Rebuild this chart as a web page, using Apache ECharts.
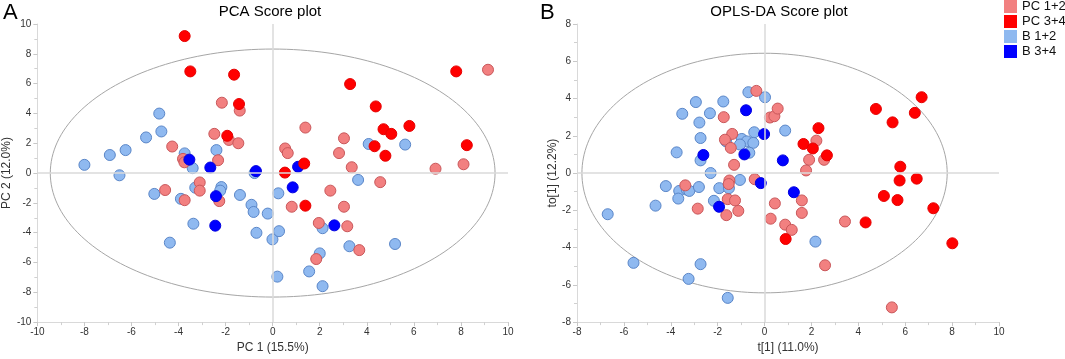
<!DOCTYPE html>
<html>
<head>
<meta charset="utf-8">
<script src="https://cdn.jsdelivr.net/npm/echarts@6/dist/echarts.min.js"></script>
<style>
html, body { margin: 0; padding: 0; background: #fff; }
#main { width: 1065px; height: 359px; }
</style>
</head>
<body>
<div id="main"></div>
<script>
// group names (legend order)
var groupNames = ['PC 1+2', 'PC 3+4', 'B 1+2', 'B 3+4'];

// A - PCA scores [PC1, PC2]
var pcaPc12 = [[-2.16,4.72],[-1.40,4.19],[-2.48,2.63],[-1.86,2.22],[-1.46,2.0],[-4.27,1.78],[-3.81,0.95],[-3.75,0.72],
    [-2.32,0.86],[9.15,6.93],[1.39,3.05],[3.03,2.33],[2.82,1.34],[0.53,1.65],[0.64,1.34],[3.36,0.39],[6.92,0.29],
    [8.11,0.59],[-4.57,-1.14],[-3.74,-1.82],[-3.1,-0.63],[-3.1,-1.18],[-2.27,-1.88],[4.57,-0.61],[2.45,-1.18],
    [0.81,-2.26],[3.03,-2.26],[1.96,-3.35],[3.17,-3.57],[3.68,-5.17],[1.85,-5.77]];
var pcaPc34 = [[-3.74,9.19],[-3.5,6.82],[-1.64,6.6],[-1.43,4.63],[-1.93,2.5],[7.8,6.82],[3.29,5.97],[4.38,4.47],
    [4.71,2.94],[5.04,2.63],[5.81,3.16],[4.33,1.8],[8.25,1.87],[4.79,1.16],[1.34,0.64],[0.52,0.03],[1.39,-2.19]];
var pcaB12 = [[-4.82,3.99],[-4.73,2.79],[-5.38,2.39],[-6.92,1.21],[-6.25,1.54],[-8.0,0.55],[-3.74,1.32],[-3.4,0.33],
    [-2.39,1.54],[-0.77,0.0],[-6.51,-0.15],[4.08,1.95],[5.63,1.91],[-5.03,-1.4],[-3.9,-1.73],[-3.29,-0.98],
    [-2.18,-0.94],[-2.23,-1.18],[-1.39,-1.47],[-0.9,-2.13],[-0.81,-2.61],[-0.21,-2.72],[-3.37,-3.4],[-0.69,-4.01],
    [-4.37,-4.67],[-0.01,-4.45],[3.63,-0.46],[0.24,-1.36],[2.12,-3.7],[0.27,-3.9],[3.26,-4.91],[5.2,-4.76],
    [2.0,-5.39],[1.55,-6.6],[0.2,-6.95],[2.12,-7.59]];
var pcaB34 = [[-3.54,0.9],[-2.65,0.37],[-0.71,0.13],[1.08,0.42],[-2.41,-1.55],[-2.44,-3.53],[0.85,-0.96],[2.62,-3.51]];

// B - OPLS-DA scores [t1, to1]
var oplsPc12 = [[-0.35,4.41],[-1.74,3.0],[0.23,2.98],[0.42,3.05],[0.56,3.46],[-1.38,2.1],[-1.69,1.79],[-1.44,1.35],
    [-1.3,0.44],[2.21,1.74],[2.54,0.71],[1.9,0.71],[1.77,0.14],[-3.38,-0.66],[-1.5,-0.4],[-1.53,-0.59],[-0.42,-0.33],
    [-1.57,-1.4],[-1.26,-1.47],[-2.85,-1.91],[-1.12,-2.03],[-1.63,-2.26],[0.26,-2.45],[0.44,-1.63],[1.59,-1.47],
    [1.59,-2.14],[0.88,-2.77],[1.16,-3.05],[3.43,-2.6],[2.58,-4.95],[5.43,-7.21]];
var oplsPc34 = [[4.75,3.44],[6.7,4.07],[6.41,3.23],[5.46,2.72],[2.3,2.41],[1.66,1.56],[2.06,1.32],[2.66,0.95],
    [5.79,0.34],[5.76,-0.4],[6.49,-0.3],[5.09,-1.23],[5.67,-1.45],[7.2,-1.89],[4.31,-2.65],[0.9,-3.54],[8.01,-3.77]];
var oplsB12 = [[-0.69,4.34],[0.02,4.07],[-2.93,3.81],[-1.76,3.84],[-3.51,3.18],[-2.33,3.21],[-2.78,2.71],[-2.73,1.88],
    [-0.44,2.19],[0.88,2.28],[-1.64,1.7],[-0.97,1.83],[-0.76,1.7],[-1.05,1.53],[-0.48,1.62],[-0.65,1.09],[-3.75,1.11],
    [-2.73,0.68],[-2.3,0.0],[-4.21,-0.7],[-3.64,-0.96],[-3.68,-1.37],[-3.32,-0.89],[-3.21,-0.96],[-2.8,-0.75],
    [-1.93,-0.81],[-1.52,-0.81],[-1.05,-0.37],[-2.16,-1.49],[-4.65,-1.75],[-6.69,-2.21],[-5.59,-4.82],[-2.73,-4.89],
    [-3.24,-5.68],[-1.57,-6.7],[2.17,-3.68]];
var oplsB34 = [[-0.79,3.37],[-0.02,2.09],[-2.61,0.97],[-0.86,1.0],[0.78,0.68],[-0.16,-0.54],[-1.94,-1.81],[1.25,-1.03]];

// Hotelling T2 ellipse half-axes [x, y]
var pcaEllipse = [9.45, 8.32];
var oplsEllipse = [7.79, 6.43];

var colors = {
    'PC 1+2': { fill: '#f28080', border: '#c9575a' },
    'PC 3+4': { fill: '#ff0000', border: '#e60000' },
    'B 1+2':  { fill: '#8fb9f0', border: '#5a86c8' },
    'B 3+4':  { fill: '#0000ff', border: '#0000e0' }
};

var chart = echarts.init(document.getElementById('main'));

function ellipsePoints(ax) {
    var pts = [];
    for (var i = 0; i <= 200; i++) {
        var a = i / 200 * Math.PI * 2;
        pts.push([ax[0] * Math.cos(a), ax[1] * Math.sin(a)]);
    }
    return pts;
}

function axisStyle(min, max, name, gap, isY) {
    return {
        type: 'value', min: min, max: max, interval: 2,
        name: name, nameLocation: 'middle', nameGap: gap,
        nameTextStyle: { color: '#333', fontSize: 12, fontFamily: 'Liberation Sans' },
        axisLine: { show: true, onZero: false, lineStyle: { color: '#d9d9d9', width: 1 } },
        axisTick: { show: true, length: 4, lineStyle: { color: '#c8c8c8' } },
        minorTick: { show: true, splitNumber: 2, length: 3, lineStyle: { color: '#d0d0d0' } },
        axisLabel: { color: '#333', fontSize: 10, fontFamily: 'Liberation Sans', margin: isY ? 6 : 5 },
        splitLine: { show: false }
    };
}

function scatter(name, data, idx) {
    return {
        name: name, type: 'scatter', xAxisIndex: idx, yAxisIndex: idx,
        data: data, symbolSize: 11, z: 3,
        itemStyle: { color: colors[name].fill, borderColor: colors[name].border, borderWidth: 1, opacity: 1 }
    };
}

function ellipse(ax, idx) {
    return {
        type: 'line', xAxisIndex: idx, yAxisIndex: idx, silent: true, z: 2,
        data: ellipsePoints(ax), showSymbol: false, symbol: 'none',
        lineStyle: { color: '#a6a6a6', width: 1 },
        markLine: {
            silent: true, symbol: 'none', label: { show: false },
            lineStyle: { color: '#dadada', width: 1.5, type: 'solid' },
            data: [{ xAxis: 0 }, { yAxis: 0 }]
        }
    };
}

option = {
    animation: false,
    backgroundColor: '#fff',
    textStyle: { fontFamily: 'Liberation Sans' },
    grid: [
        { left: 32, top: 24, width: 476, height: 304 },
        { left: 577, top: 24, width: 422, height: 304 }
    ],
    xAxis: [
        axisStyle(-10, 10, 'PC 1 (15.5%)', 17, false),
        Object.assign(axisStyle(-8, 10, 't[1] (11.0%)', 17, false), { gridIndex: 1 })
    ],
    yAxis: [
        axisStyle(-10, 10, 'PC 2 (12.0%)', 19, true),
        Object.assign(axisStyle(-8, 8, 'to[1] (12.2%)', 13, true), { gridIndex: 1 })
    ],
    legend: {
        orient: 'vertical', left: 1004, top: 0, padding: 0,
        itemWidth: 13, itemHeight: 13, itemGap: 2,
        icon: 'rect',
        itemStyle: { borderWidth: 0 },
        data: groupNames,
        textStyle: { color: '#111', fontSize: 13, fontFamily: 'Liberation Sans' }
    },
    graphic: [
        { type: 'text', left: 3, top: 2, style: { text: 'A', fontSize: 22, fill: '#000', fontFamily: 'Liberation Sans' } },
        { type: 'text', left: 540, top: 2, style: { text: 'B', fontSize: 22, fill: '#000', fontFamily: 'Liberation Sans' } },
        { type: 'text', x: 270, y: 12, style: { text: 'PCA Score plot', fontSize: 15, fill: '#000', align: 'center', verticalAlign: 'middle', fontFamily: 'Liberation Sans' } },
        { type: 'text', x: 779, y: 12, style: { text: 'OPLS-DA Score plot', fontSize: 15, fill: '#000', align: 'center', verticalAlign: 'middle', fontFamily: 'Liberation Sans' } }
    ],
    series: [
        ellipse(pcaEllipse, 0),
        scatter('B 1+2', pcaB12, 0),
        scatter('PC 1+2', pcaPc12, 0),
        scatter('B 3+4', pcaB34, 0),
        scatter('PC 3+4', pcaPc34, 0),
        ellipse(oplsEllipse, 1),
        scatter('B 1+2', oplsB12, 1),
        scatter('PC 1+2', oplsPc12, 1),
        scatter('B 3+4', oplsB34, 1),
        scatter('PC 3+4', oplsPc34, 1)
    ]
};

chart.setOption(option);
</script>
</body>
</html>
